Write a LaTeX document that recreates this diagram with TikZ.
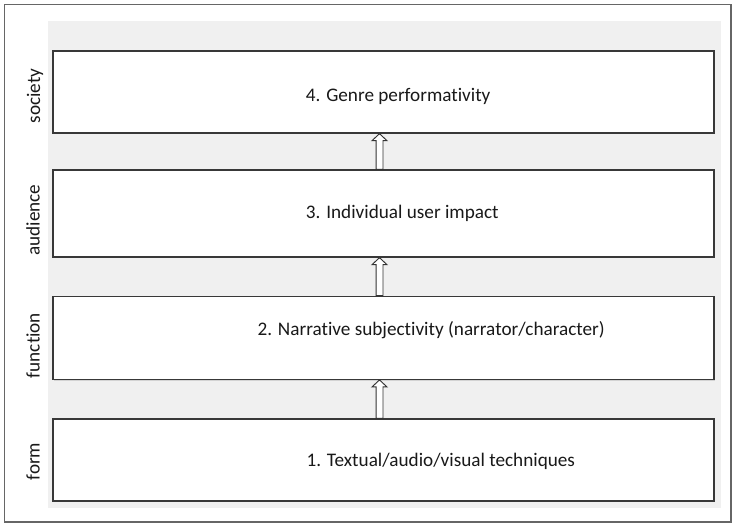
\documentclass[tikz,border=0pt]{standalone}
\usepackage{fontspec}
\setmainfont{Carlito}[Ligatures=NoCommon]
\usetikzlibrary{positioning, calc, shadows}

\begin{document}
\begin{tikzpicture}[
  x=0.75pt, y=-0.75pt,
  font=\fontsize{14.4}{17}\selectfont,
  frame/.style={draw=black!60, line width=0.8pt},
  band/.style={fill=black!6},
  box/.style={draw=black!78, fill=white, line width=1pt, minimum width=495.75pt, inner sep=0pt,
              drop shadow={shadow xshift=1pt, shadow yshift=-1pt, fill=black!28}},
  txt/.style={inner sep=0pt, text=black!90},
  side/.style={rotate=90, inner sep=0pt, text=black!90},
  up/.style={draw=black!80, fill=white, line width=0.7pt,
             to path={let \p1=(\tikztostart), \p2=(\tikztotarget) in
               (\x1-2.6pt,\y1) -- (\x1-2.6pt,\y2-5.25pt) -- (\x1-5.6pt,\y2-5.25pt) -- (\x1,\y2)
               -- (\x1+5.6pt,\y2-5.25pt) -- (\x1+2.6pt,\y2-5.25pt) -- (\x1+2.6pt,\y1) -- cycle}},
]
\useasboundingbox (0,0) rectangle (732,523);
\draw[frame] (4.5,4.5) rectangle (731,522);

% ---- grey band behind the four levels ----
\fill[band] (48,21) rectangle (721,508);

% ---- levels, bottom to top ----
\node[box, minimum height=61.5pt] (form) at (383.5,460) {};
\node[txt, right=190.5pt of form.west, yshift=-1.3pt] (formtxt) {1. Textual/audio/visual techniques};

\node[box, minimum height=62.25pt] (func) at (383.5,337.75) {};
\node[txt, right=153.75pt of func.west, yshift=5.6pt] (functxt) {2. Narrative subjectivity (narrator/character)};

\node[box, minimum height=65.25pt] (aud) at (383.5,213.5) {};
\node[txt, right=190pt of aud.west] (audtxt) {3. Individual user impact};

\node[box, minimum height=61.5pt] (soc) at (383.5,92) {};
\node[txt, right=190pt of soc.west, yshift=-3pt] (soctxt) {4. Genre performativity};

% ---- hollow arrows between levels ----
\draw[up] ([xshift=-3pt]form.north) to ([xshift=-3pt]func.south);
\draw[up] ([xshift=-3pt]func.north) to ([xshift=-3pt]aud.south);
\draw[up] ([xshift=-3pt]aud.north) to ([xshift=-3pt]soc.south);

% ---- side labels ----
\node[side] (lsoc) at (35,96) {society};
\node[side] (laud) at (33,220) {audience};
\node[side] (lfunc) at (33,345.5) {function};
\node[side] (lform) at (33,461.5) {form};
\end{tikzpicture}
\end{document}
